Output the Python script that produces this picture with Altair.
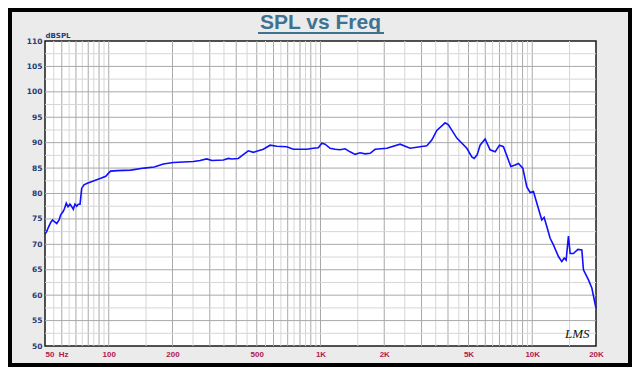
import altair as alt
import pandas as pd

# ---- data ----
freq = [50, 50.9, 51.7, 53.2, 54.3, 55.6, 56.8, 58.3, 59.3, 61.0, 61.9, 63.0, 64.2, 65.6,
        66.9, 68.0, 69.3, 70.6, 71.8, 73.2, 74.5, 76.4, 79.2, 85.2, 91.7, 96.8, 100.3, 102,
        110, 127, 147, 164, 181, 202, 225, 251, 270, 290, 307, 348, 367, 381, 409, 430, 456,
        482, 500, 537, 578, 622, 693, 744, 861, 925, 977, 1014, 1051, 1110, 1172, 1237, 1307,
        1379, 1457, 1538, 1624, 1715, 1811, 2057, 2376, 2649, 2954, 3177, 3354, 3542, 3877,
        4019, 4404, 4909, 5184, 5316, 5491, 5671, 5989, 6324, 6679, 6998, 7309, 7923, 8300,
        8603, 9024, 9427, 9772, 10130, 10580, 11090, 11376, 11716, 12146, 12590, 13295,
        13794, 14143, 14453, 14822, 15098, 15651, 16418, 17146, 17448, 18427, 19116, 20000]
spl = [72.0, 72.5, 73.2, 74.3, 74.8, 74.4, 74.1, 74.8, 75.8, 76.5, 77.1, 78.1, 77.4, 77.9,
       77.4, 76.9, 77.9, 77.5, 77.9, 77.9, 81.0, 81.7, 82.0, 82.5, 83.0, 83.4, 84.1, 84.4,
       84.5, 84.6, 85.0, 85.2, 85.8, 86.1, 86.2, 86.3, 86.5, 86.8, 86.5, 86.6, 86.9, 86.8,
       86.9, 87.6, 88.4, 88.1, 88.3, 88.7, 89.5, 89.3, 89.2, 88.7, 88.7, 88.9, 89.0, 89.9,
       89.7, 88.9, 88.7, 88.6, 88.8, 88.2, 87.7, 88.0, 87.8, 87.9, 88.7, 88.9, 89.7, 88.9,
       89.2, 89.4, 90.5, 92.4, 93.9, 93.5, 90.9, 88.9, 87.2, 86.9, 87.6, 89.5, 90.7, 88.6,
       88.2, 89.5, 89.2, 85.3, 85.6, 85.9, 85.0, 81.3, 80.2, 80.4, 77.7, 74.8, 75.3, 73.5,
       71.2, 69.9, 67.6, 66.6, 67.3, 66.9, 71.6, 68.2, 68.2, 69.0, 68.9, 65.0, 63.0, 61.4, 57.4]

x_ticks = [50, 100, 200, 500, 1000, 2000, 5000, 10000, 20000]
x_tick_labels = ["50\u00a0\u00a0Hz", "100", "200", "500", "1K", "2K", "5K", "10K", "20K"]
y_ticks = list(range(50, 111, 5))
title_text = "SPL vs Freq"
y_title = "dBSPL"
logo_text = "LMS"

# grid positions (log grid, lines every half unit)
grid_x = []
for decade in [10, 100, 1000, 10000]:
    for k in [x / 2 for x in range(2, 20)]:
        v = k * decade
        if 50 < v < 20000:
            grid_x.append((v, "major" if k == int(k) else "minor"))
grid_y = [(v, "major" if v % 5 == 0 else "minor") for v in [50 + 2.5 * i for i in range(1, 24)]]

W, H = 551, 305
PL, PT, PR, PB = 37, 33, 36, 21

df = pd.DataFrame({"freq": freq, "spl": spl})
gx = pd.DataFrame(grid_x, columns=["freq", "level"])
gy = pd.DataFrame(grid_y, columns=["spl", "level"])
one = pd.DataFrame({"t": [title_text], "l": [logo_text]})

xscale = alt.Scale(type="log", domain=[50, 20000], nice=False)
yscale = alt.Scale(domain=[50, 110], nice=False, zero=False)
gcol = alt.Color("level:N", scale=alt.Scale(domain=["major", "minor"], range=["#a9a9a9", "#d6d6d6"]), legend=None)

label_expr = " : ".join(
    [f"datum.value == {v} ? '{t}'" for v, t in zip(x_ticks, x_tick_labels)]) + " : ''"

x_axis = alt.Axis(values=x_ticks, labelExpr=label_expr, title=None, grid=False, ticks=False,
                  domain=False, labelFont="Liberation Sans", labelFontWeight="bold",
                  labelFontSize=8, labelColor="#b3184f", labelPadding=4, labelFlush=False,
                  labelOverlap=False,
                  labelAlign={"condition": {"test": "datum.value == 50", "value": "left"},
                              "value": "center"})
y_axis = alt.Axis(values=y_ticks, title=y_title, titleAngle=0, titleX=0, titleY=-4,
                  titleAlign="left", titleBaseline="alphabetic", titleFont="DejaVu Sans",
                  titleFontSize=7, titleFontWeight="bold", titleColor="#1f3c7a",
                  grid=False, ticks=False, domain=False, labelFont="DejaVu Sans",
                  labelFontWeight="bold", labelFontSize=7.5, labelColor="#1f3c7a",
                  labelPadding=3, labelOverlap=False)

X = alt.X("freq:Q", scale=xscale, axis=x_axis)
Y = alt.Y("spl:Q", scale=yscale, axis=y_axis)

frame = alt.Chart(one).mark_rect(fill="#ebebeb", fillOpacity=0, stroke="black", strokeWidth=8).encode(
    x=alt.value(-PL), x2=alt.value(W + PR), y=alt.value(-PT), y2=alt.value(H + PB))

vgrid = alt.Chart(gx).mark_rule(strokeWidth=1).encode(x=X, color=gcol)
hgrid = alt.Chart(gy).mark_rule(strokeWidth=1).encode(y=Y, color=gcol)

line = alt.Chart(df).mark_line(color="#1010ff", strokeWidth=1.6).encode(x=X, y=Y)

title = alt.Chart(one).mark_text(font="Liberation Sans", fontSize=21, fontWeight="bold",
                                 color="#3f7190", align="center", baseline="alphabetic").encode(
    text="t:N", x=alt.value(W / 2), y=alt.value(-12))
underline = alt.Chart(one).mark_rule(color="#3f7190", strokeWidth=2).encode(
    x=alt.value(213), x2=alt.value(339), y=alt.value(-8))
logo = alt.Chart(one).mark_text(font="Liberation Serif", fontSize=13, fontStyle="italic",
                                color="#111", align="left", baseline="alphabetic").encode(
    text="l:N", x=alt.value(520), y=alt.value(297))

chart = alt.layer(frame, vgrid, hgrid, line, title, underline, logo).properties(
    width=W, height=H, background="#ebebeb",
    padding={"left": PL, "top": PT, "right": PR, "bottom": PB},
    autosize=alt.AutoSizeParams(type="none")
).configure_view(fill="white", stroke="#1a1a1a", strokeWidth=1.5)

chart.save("out.html", embed_options={"renderer": "svg", "actions": False})
